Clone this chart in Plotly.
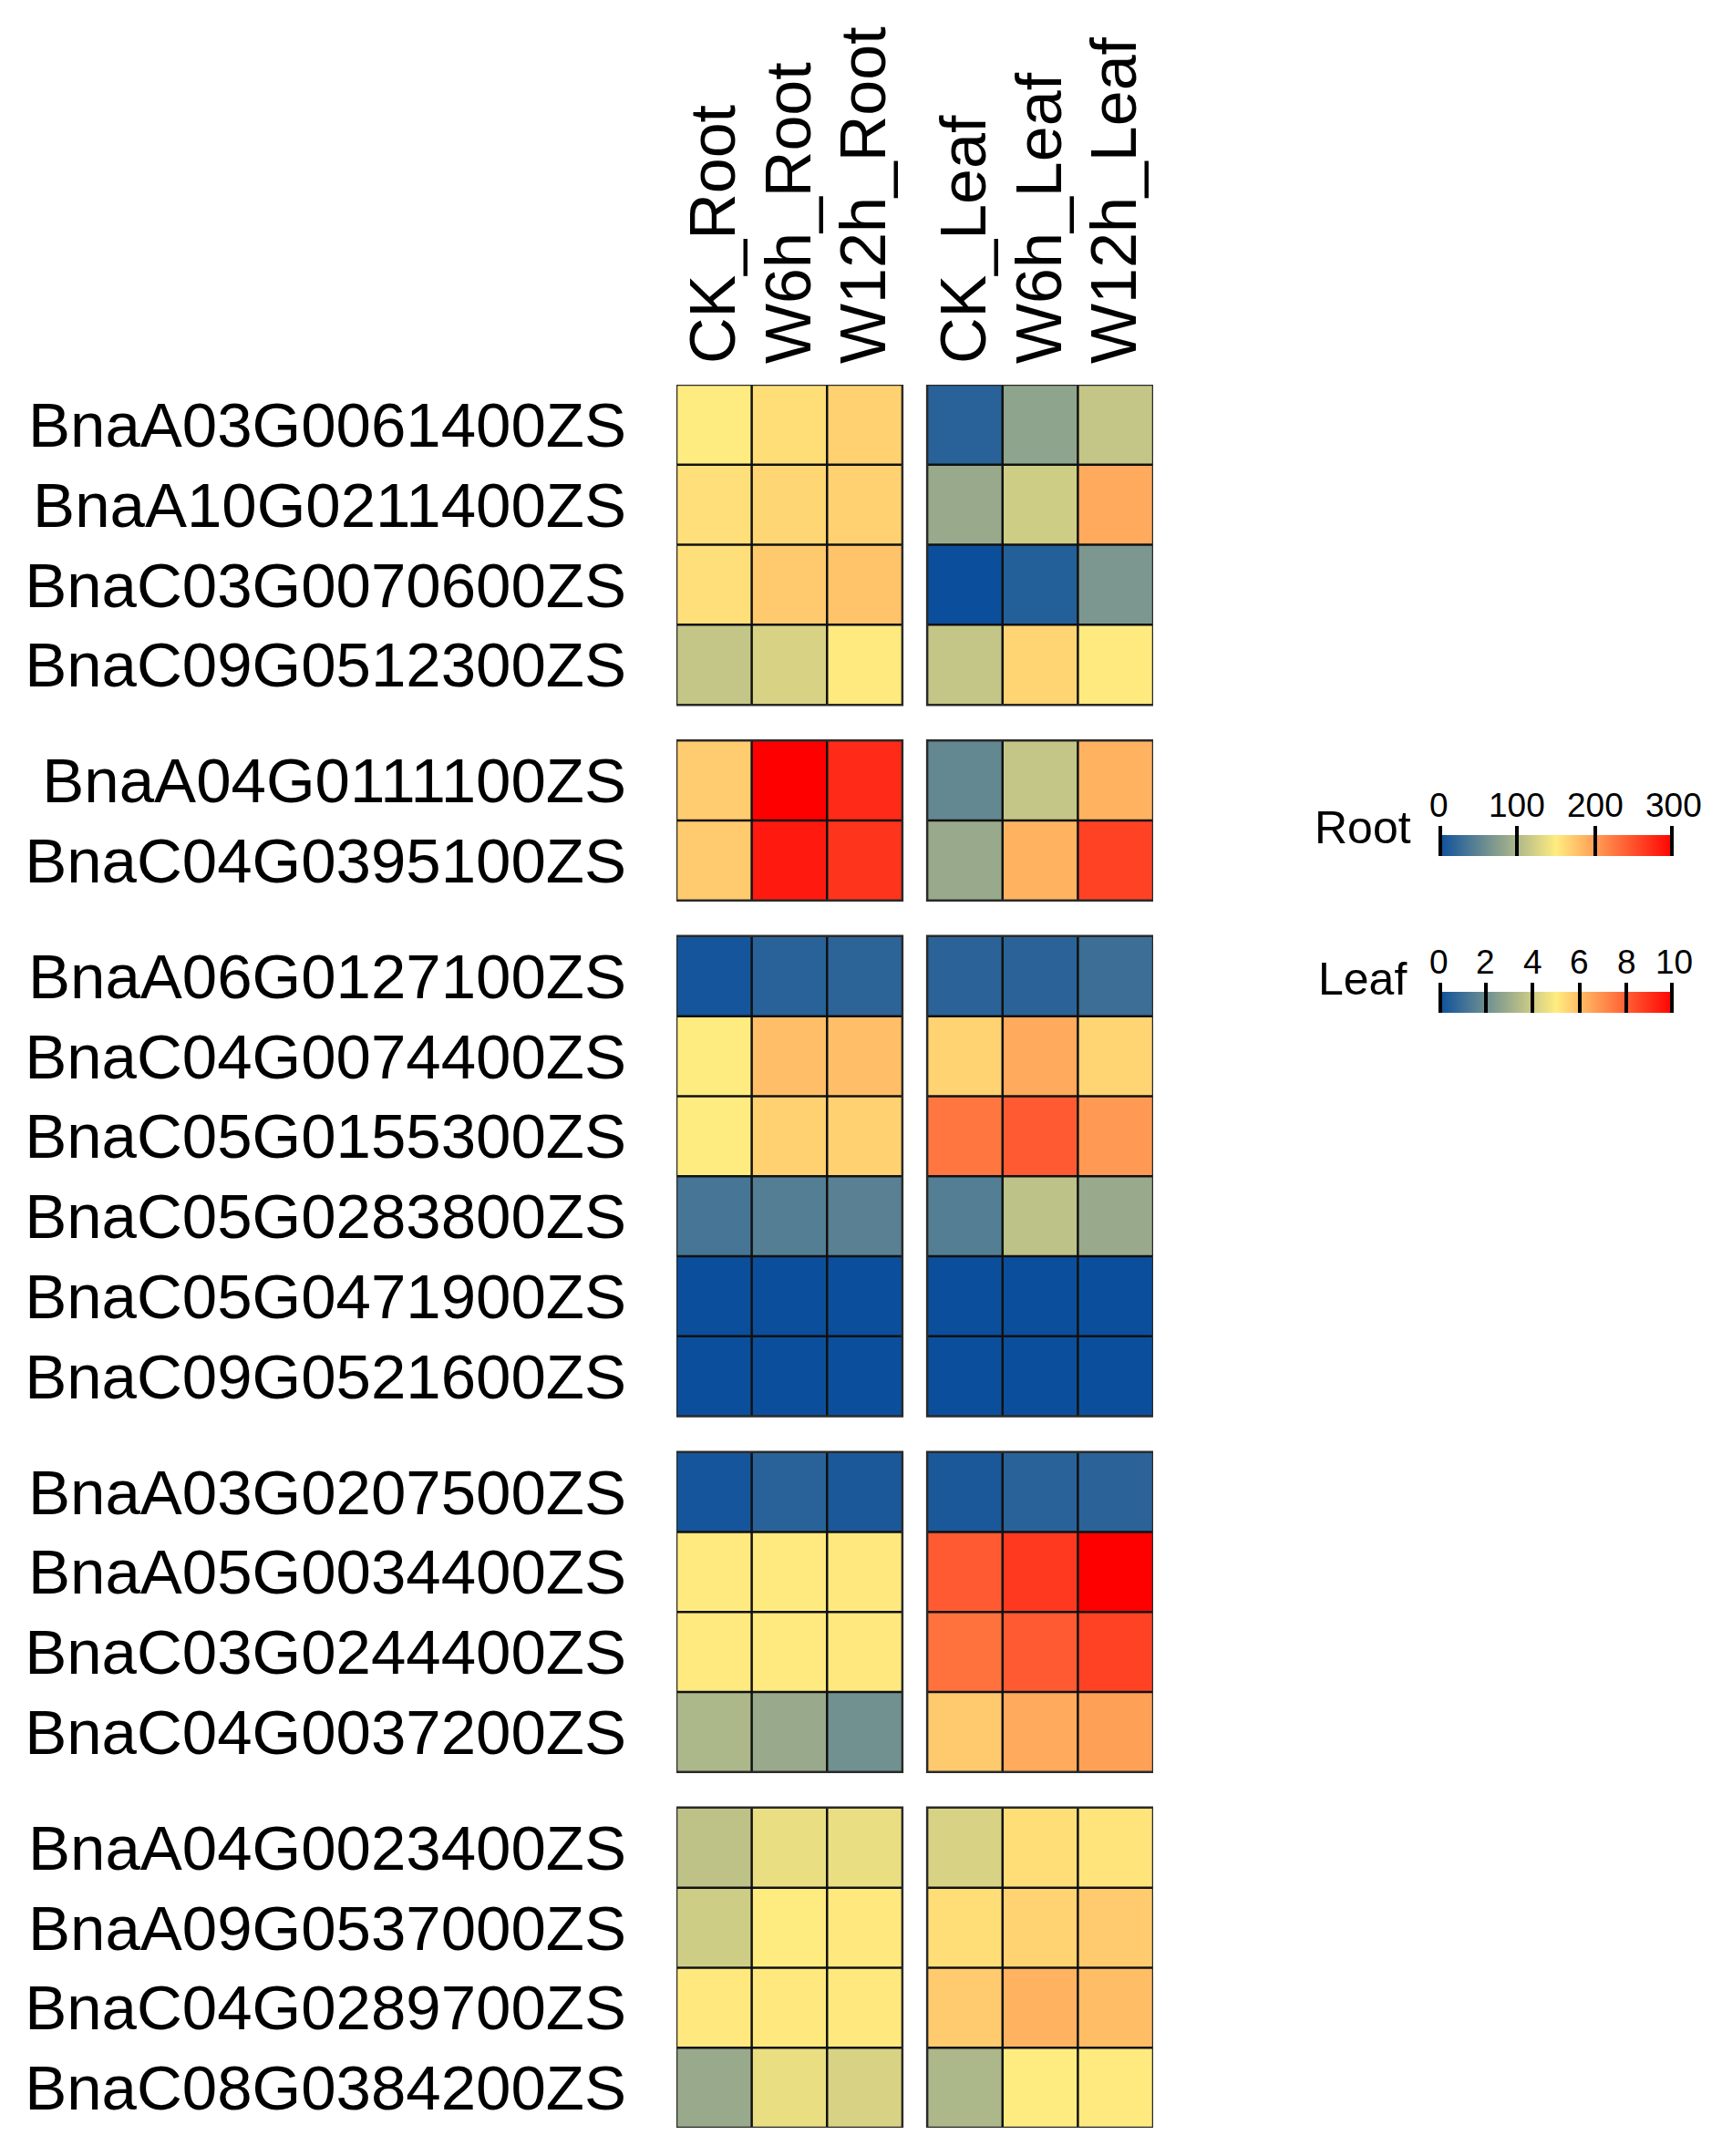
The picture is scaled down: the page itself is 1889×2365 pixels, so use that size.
import plotly.graph_objects as go

# ---------------- data ----------------
conditions_root = ["CK_Root", "W6h_Root", "W12h_Root"]
conditions_leaf = ["CK_Leaf", "W6h_Leaf", "W12h_Leaf"]

genes = [
    "BnaA03G0061400ZS", "BnaA10G0211400ZS", "BnaC03G0070600ZS", "BnaC09G0512300ZS",
    "BnaA04G0111100ZS", "BnaC04G0395100ZS",
    "BnaA06G0127100ZS", "BnaC04G0074400ZS", "BnaC05G0155300ZS", "BnaC05G0283800ZS",
    "BnaC05G0471900ZS", "BnaC09G0521600ZS",
    "BnaA03G0207500ZS", "BnaA05G0034400ZS", "BnaC03G0244400ZS", "BnaC04G0037200ZS",
    "BnaA04G0023400ZS", "BnaA09G0537000ZS", "BnaC04G0289700ZS", "BnaC08G0384200ZS",
]
group_sizes = [4, 2, 6, 4, 4]

root_values = [
    [150, 159, 167], [158, 164, 167], [158, 172, 176], [114, 126, 151],
    [170, 300, 273], [171, 284, 267],
    [6, 18, 20], [150, 179, 179], [150, 167, 167], [36, 45, 48], [0, 0, 0], [0, 0, 0],
    [6, 18, 9], [151, 151, 152], [151, 151, 152], [99, 87, 63],
    [110, 137, 137], [120, 150, 152], [152, 152, 152], [87, 137, 126],
]
leaf_values = [
    [0.6, 2.7, 3.8], [2.9, 4.0, 6.4], [0.0, 0.5, 2.3], [3.8, 5.5, 5.05],
    [1.8, 3.8, 6.2], [2.9, 6.2, 8.6],
    [0.65, 0.65, 1.0], [5.55, 6.4, 5.5], [7.5, 8.1, 6.75], [1.5, 3.65, 2.9], [0, 0, 0], [0, 0, 0],
    [0.3, 0.6, 0.65], [8.1, 8.8, 10.0], [7.6, 8.1, 8.6], [5.75, 6.4, 6.6],
    [4.2, 5.3, 5.2], [5.3, 5.55, 5.7], [5.7, 6.2, 6.0], [3.3, 5.0, 5.05],
]
root_range = [0, 300]
leaf_range = [0, 10]
root_ticks = [0, 100, 200, 300]
leaf_ticks = [0, 2, 4, 6, 8, 10]

# ---------------- layout constants ----------------
PAGE_W, PAGE_H = 1889, 2365
OFF = 8                      # browser default body margin
W, H = PAGE_W - 2 * OFF, PAGE_H - 2 * OFF
FONT = "Arial, Liberation Sans, sans-serif"
colorscale = [[0, "#0B4F9C"], [0.5, "#FFEC80"], [1, "#FF0000"]]
COL_GAP = 0.33     # gap between Root and Leaf blocks (cell units)
ROW_GAP = 0.445    # gap between groups (cell units)
leaf_off = 3 + COL_GAP
x_root = [0, 1, 2]
x_leaf = [leaf_off + i for i in range(3)]


def px(xp):
    return (xp - OFF) / W


def py(yp):
    return 1 - (yp - OFF) / H


# row centres with group gaps
row_y = []
group_bounds = []
idx = 0
for g, n in enumerate(group_sizes):
    start = idx + g * ROW_GAP
    ys = [start + k for k in range(n)]
    row_y.extend(ys)
    group_bounds.append((idx, idx + n, ys[0] - 0.5, ys[-1] + 0.5))
    idx += n

fig = go.Figure()
for (i0, i1, yt, yb) in group_bounds:
    fig.add_trace(go.Heatmap(x=x_root, y=row_y[i0:i1], z=root_values[i0:i1],
                             coloraxis="coloraxis", hoverinfo="skip"))
    fig.add_trace(go.Heatmap(x=x_leaf, y=row_y[i0:i1], z=leaf_values[i0:i1],
                             coloraxis="coloraxis2", hoverinfo="skip"))

# cell borders
shapes = []
LW = 2.5
for (i0, i1, yt, yb) in group_bounds:
    for off in (0, leaf_off):
        xl, xr = off - 0.5, off + 2.5
        for k in range(1, 3):
            shapes.append(dict(type="line", x0=off - 0.5 + k, x1=off - 0.5 + k, y0=yt, y1=yb,
                               line=dict(color="#111", width=LW), layer="above"))
        for k in range(1, i1 - i0):
            shapes.append(dict(type="line", x0=xl, x1=xr, y0=yt + k, y1=yt + k,
                               line=dict(color="#111", width=LW), layer="above"))
        shapes.append(dict(type="rect", x0=xl, x1=xr, y0=yt, y1=yb,
                           line=dict(color="#2a2a2a", width=LW), layer="above"))

px_left, px_right, px_top, px_bottom = 742, 1265, 422, 2334
y_bottom = group_bounds[-1][3]

# colorbar geometry (page pixels)
CB_X0, CB_LEN, CB_TH = 1578, 258, 23
TICKLEN = 33
ROOT_CB_BOTTOM, LEAF_CB_BOTTOM = 937, 1109


def cb(bottom_px, ticks, rng):
    # keep end ticks ~2px inside the bar so plotly does not drop them
    eps = (rng[1] - rng[0]) * 2.2 / CB_LEN
    tv = [min(max(t, rng[0] + eps), rng[1] - eps) for t in ticks]
    return dict(orientation="h", x=px(CB_X0), xanchor="left", xpad=0,
                y=py(bottom_px + TICKLEN + 2), yanchor="bottom", ypad=0,
                len=CB_LEN, lenmode="pixels", thickness=CB_TH, thicknessmode="pixels",
                tickvals=tv, ticks="inside", ticklen=TICKLEN, tickwidth=4, tickcolor="black",
                showticklabels=False, outlinewidth=0)


annotations = []
for v in root_ticks:
    annotations.append(dict(x=px(CB_X0 + CB_LEN * (v - root_range[0]) / (root_range[1] - root_range[0])),
                            y=py(884), xref="paper", yref="paper", text=str(v),
                            showarrow=False, xanchor="center", yanchor="middle",
                            font=dict(family=FONT, size=37, color="black")))
for v in leaf_ticks:
    annotations.append(dict(x=px(CB_X0 + CB_LEN * (v - leaf_range[0]) / (leaf_range[1] - leaf_range[0])),
                            y=py(1055), xref="paper", yref="paper", text=str(v),
                            showarrow=False, xanchor="center", yanchor="middle",
                            font=dict(family=FONT, size=37, color="black")))
annotations.append(dict(x=px(1550), y=py(908), xref="paper", yref="paper", text="Root",
                        showarrow=False, xanchor="right", yanchor="middle",
                        font=dict(family=FONT, size=50, color="black")))
annotations.append(dict(x=px(1545), y=py(1074), xref="paper", yref="paper", text="Leaf",
                        showarrow=False, xanchor="right", yanchor="middle",
                        font=dict(family=FONT, size=50, color="black")))

fig.update_layout(
    width=W, height=H,
    margin=dict(l=0, r=0, t=0, b=0),
    paper_bgcolor="white", plot_bgcolor="white",
    font=dict(family=FONT, color="black"),
    shapes=shapes, annotations=annotations,
    coloraxis=dict(colorscale=colorscale, cmin=root_range[0], cmax=root_range[1],
                   colorbar=cb(ROOT_CB_BOTTOM, root_ticks, root_range)),
    coloraxis2=dict(colorscale=colorscale, cmin=leaf_range[0], cmax=leaf_range[1],
                    colorbar=cb(LEAF_CB_BOTTOM, leaf_ticks, leaf_range)),
    xaxis=dict(domain=[px(px_left), px(px_right)], range=[-0.5, leaf_off + 2.5],
               side="top", tickvals=x_root + x_leaf, ticktext=conditions_root + conditions_leaf,
               tickangle=-90, tickfont=dict(family=FONT, size=70, color="black"),
               ticks="", showgrid=False, zeroline=False, showline=False,
               ticklabelstandoff=22),
    yaxis=dict(domain=[py(px_bottom), py(px_top)], range=[y_bottom, -0.5],
               tickvals=row_y, ticktext=genes,
               tickfont=dict(family=FONT, size=69, color="black"),
               ticks="", showgrid=False, zeroline=False, showline=False,
               ticklabelstandoff=54),
)

fig.write_html("out.html")
